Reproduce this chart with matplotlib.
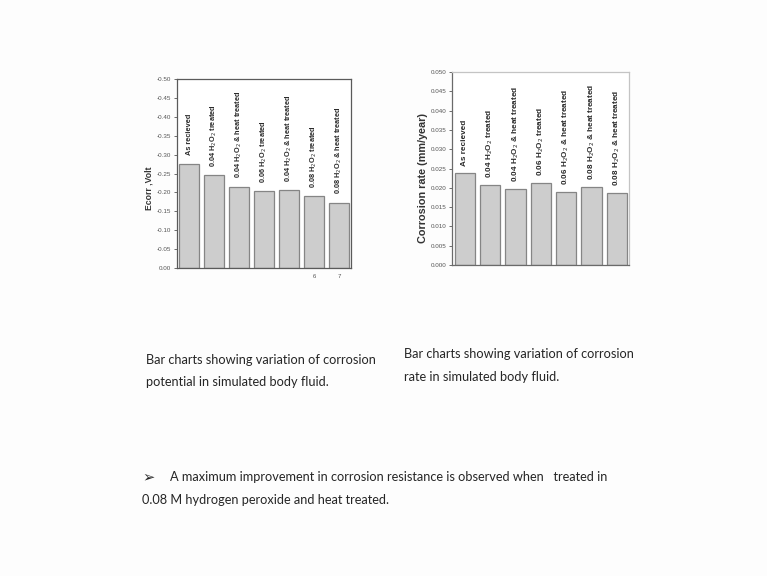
import numpy as np
import matplotlib.pyplot as plt
from matplotlib.ticker import FormatStrFormatter

# corrosion potential (V) and corrosion rate (mm/year) for each sample
pot_labels = ['As recieved',
              '0.04 H$_2$O$_2$ treated',
              '0.04 H$_2$O$_2$ & heat treated',
              '0.06 H$_2$O$_2$ treated',
              '0.04 H$_2$O$_2$ & heat treated',
              '0.08 H$_2$O$_2$ treated',
              '0.08 H$_2$O$_2$ & heat treated']
ecorr = [-0.276, -0.246, -0.215, -0.203, -0.206, -0.190, -0.173]

rate_labels = ['As recieved',
               '0.04 H$_2$O$_2$ treated',
               '0.04 H$_2$O$_2$ & heat treated',
               '0.06 H$_2$O$_2$ treated',
               '0.06 H$_2$O$_2$ & heat treated',
               '0.08 H$_2$O$_2$ & heat treated',
               '0.08 H$_2$O$_2$ & heat treated']
crate = [0.0239, 0.0208, 0.0198, 0.0213, 0.0189, 0.0202, 0.0187]

pos = np.arange(1, 8)
bar_col = '#cdcdcd'
bar_edge = '#858585'

plt.rcParams['font.family'] = ['Liberation Sans', 'DejaVu Sans']
fig = plt.figure(figsize=(7.67, 5.76), dpi=100, facecolor='#fdfdfd')

# --- corrosion potential ---
ax1 = fig.add_axes([0.2308, 0.5347, 0.2269, 0.328])
ax1.bar(pos, ecorr, width=0.8, color=bar_col, edgecolor=bar_edge, linewidth=0.9)
ax1.set_xlim(0.52, 7.48)
ax1.set_ylim(0, -0.5)
ax1.set_yticks(np.round(np.arange(0, -0.51, -0.05), 2))
ax1.yaxis.set_major_formatter(FormatStrFormatter('%.2f'))
ax1.set_xticks([6, 7])
ax1.set_xticklabels(['6', '7'])
ax1.tick_params(axis='x', length=0, labelsize=4.3, colors='#555555', pad=4)
ax1.tick_params(axis='y', length=2, width=0.6, labelsize=4.5, colors='#555555', pad=2)
for s in ax1.spines.values():
    s.set_color('#5a5a5a')
    s.set_linewidth(0.9)
ax1.set_ylabel('Ecorr ,Volt', fontsize=6.2, fontweight='bold', color='#333333')
ax1.yaxis.set_label_coords(-0.138, 0.42)
for x, v, t in zip(pos, ecorr, pot_labels):
    ax1.text(x, v - 0.022, t, rotation=90, ha='center', va='bottom',
             fontsize=5.3, fontweight='bold', color='#2a2a2a')

# --- corrosion rate ---
ax2 = fig.add_axes([0.5893, 0.5399, 0.2308, 0.335])
ax2.bar(pos, crate, width=0.8, color=bar_col, edgecolor=bar_edge, linewidth=0.9)
ax2.set_xlim(0.5, 7.48)
ax2.set_ylim(0, 0.05)
ax2.set_yticks(np.round(np.arange(0, 0.0501, 0.005), 3))
ax2.yaxis.set_major_formatter(FormatStrFormatter('%.3f'))
ax2.set_xticks([])
ax2.tick_params(axis='y', length=2, width=0.6, labelsize=4.5, colors='#555555', pad=2)
for k, s in ax2.spines.items():
    s.set_linewidth(0.9)
    s.set_color('#6a6a6a' if k in ('left', 'bottom') else '#c4c4c4')
ax2.set_ylabel('Corrosion rate (mm/year)', fontsize=7.8, fontweight='bold',
               color='#333333')
ax2.yaxis.set_label_coords(-0.136, 0.453)
for x, v, t in zip(pos, crate, rate_labels):
    ax2.text(x, v + 0.0018, t, rotation=90, ha='center', va='bottom',
             fontsize=5.9, fontweight='bold', color='#2a2a2a')

# --- slide text ---
cap = dict(fontsize=9.2, color='#262626', family=['Lato', 'DejaVu Sans'], va='center')
fig.text(146 / 767, 1 - 360 / 576, 'Bar charts showing variation of corrosion', **cap)
fig.text(146 / 767, 1 - 382 / 576, 'potential in simulated body fluid.', **cap)
fig.text(404 / 767, 1 - 354 / 576, 'Bar charts showing variation of corrosion', **cap)
fig.text(404 / 767, 1 - 377 / 576, 'rate in simulated body fluid.', **cap)

fig.text(142 / 767, 1 - 477 / 576, '\u27a2', fontsize=10.5, color='#262626',
         family=['DejaVu Sans'], va='center')
fig.text(170 / 767, 1 - 477 / 576,
         'A maximum improvement in corrosion resistance is observed when   treated in', **cap)
fig.text(142 / 767, 1 - 500 / 576, '0.08 M hydrogen peroxide and heat treated.', **cap)

fig.savefig('out.png', dpi=100, facecolor=fig.get_facecolor())
